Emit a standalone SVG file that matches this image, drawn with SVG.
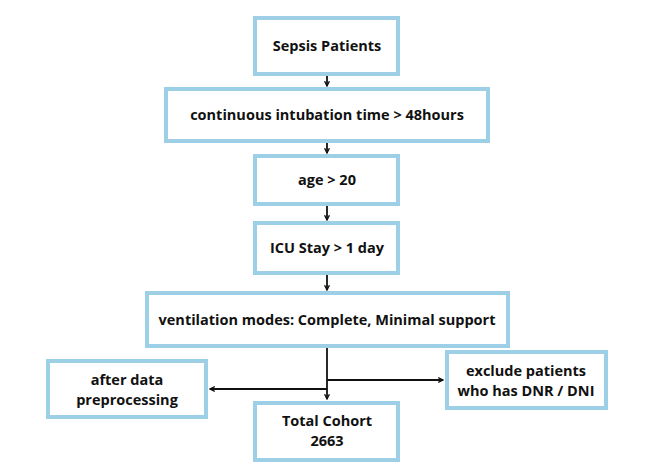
<svg xmlns="http://www.w3.org/2000/svg" width="652" height="471" viewBox="0 0 652 471">
<defs>
<style>
.box{fill:#fff;stroke:#9dcfe7;stroke-width:4}
.t{font-family:"Open Sans",sans-serif;font-weight:bold;font-size:14.5px;fill:#111;text-anchor:middle}
.c{stroke:#111;stroke-width:1.8;fill:none}
</style>
<marker id="ah" viewBox="0 0 10 10" refX="9" refY="5" markerWidth="6" markerHeight="6" markerUnits="userSpaceOnUse" orient="auto">
<path d="M1,1 L9,5 L1,9" fill="none" stroke="#111" stroke-width="2.2"/>
</marker>
</defs>
<rect width="652" height="471" fill="#fff"/>
<g id="connectors">
<line class="c" x1="327" y1="76" x2="327" y2="86" marker-end="url(#ah)"/>
<line class="c" x1="327" y1="143" x2="327" y2="153" marker-end="url(#ah)"/>
<line class="c" x1="327" y1="206" x2="327" y2="220" marker-end="url(#ah)"/>
<line class="c" x1="327" y1="275" x2="327" y2="290" marker-end="url(#ah)"/>
<line class="c" x1="327" y1="348" x2="327" y2="399" marker-end="url(#ah)"/>
<line class="c" x1="327" y1="380" x2="443" y2="380" marker-end="url(#ah)"/>
<line class="c" x1="327" y1="389" x2="210" y2="389" marker-end="url(#ah)"/>
</g>
<g id="sepsis"><rect class="box" x="255" y="18" width="143" height="56"/><text class="t" x="327" y="51">Sepsis Patients</text></g>
<g id="intubation"><rect class="box" x="166" y="89" width="322" height="52"/><text class="t" x="327" y="120">continuous intubation time &gt; 48hours</text></g>
<g id="age"><rect class="box" x="255" y="156" width="143" height="48"/><text class="t" x="327" y="185">age &gt; 20</text></g>
<g id="icu"><rect class="box" x="255" y="223" width="143" height="50"/><text class="t" x="327" y="253">ICU Stay &gt; 1 day</text></g>
<g id="ventilation"><rect class="box" x="147" y="293" width="361" height="53"/><text class="t" x="327" y="325">ventilation modes: Complete, Minimal support</text></g>
<g id="after"><rect class="box" x="48" y="361" width="158" height="56"/><text class="t" x="127" y="385">after data</text><text class="t" x="127" y="405">preprocessing</text></g>
<g id="exclude"><rect class="box" x="447" y="352" width="159" height="56"/><text class="t" x="526" y="376">exclude patients</text><text class="t" x="526" y="396">who has DNR / DNI</text></g>
<g id="total"><rect class="box" x="255" y="403" width="143" height="57"/><text class="t" x="327" y="426">Total Cohort</text><text class="t" x="327" y="446">2663</text></g>
</svg>
